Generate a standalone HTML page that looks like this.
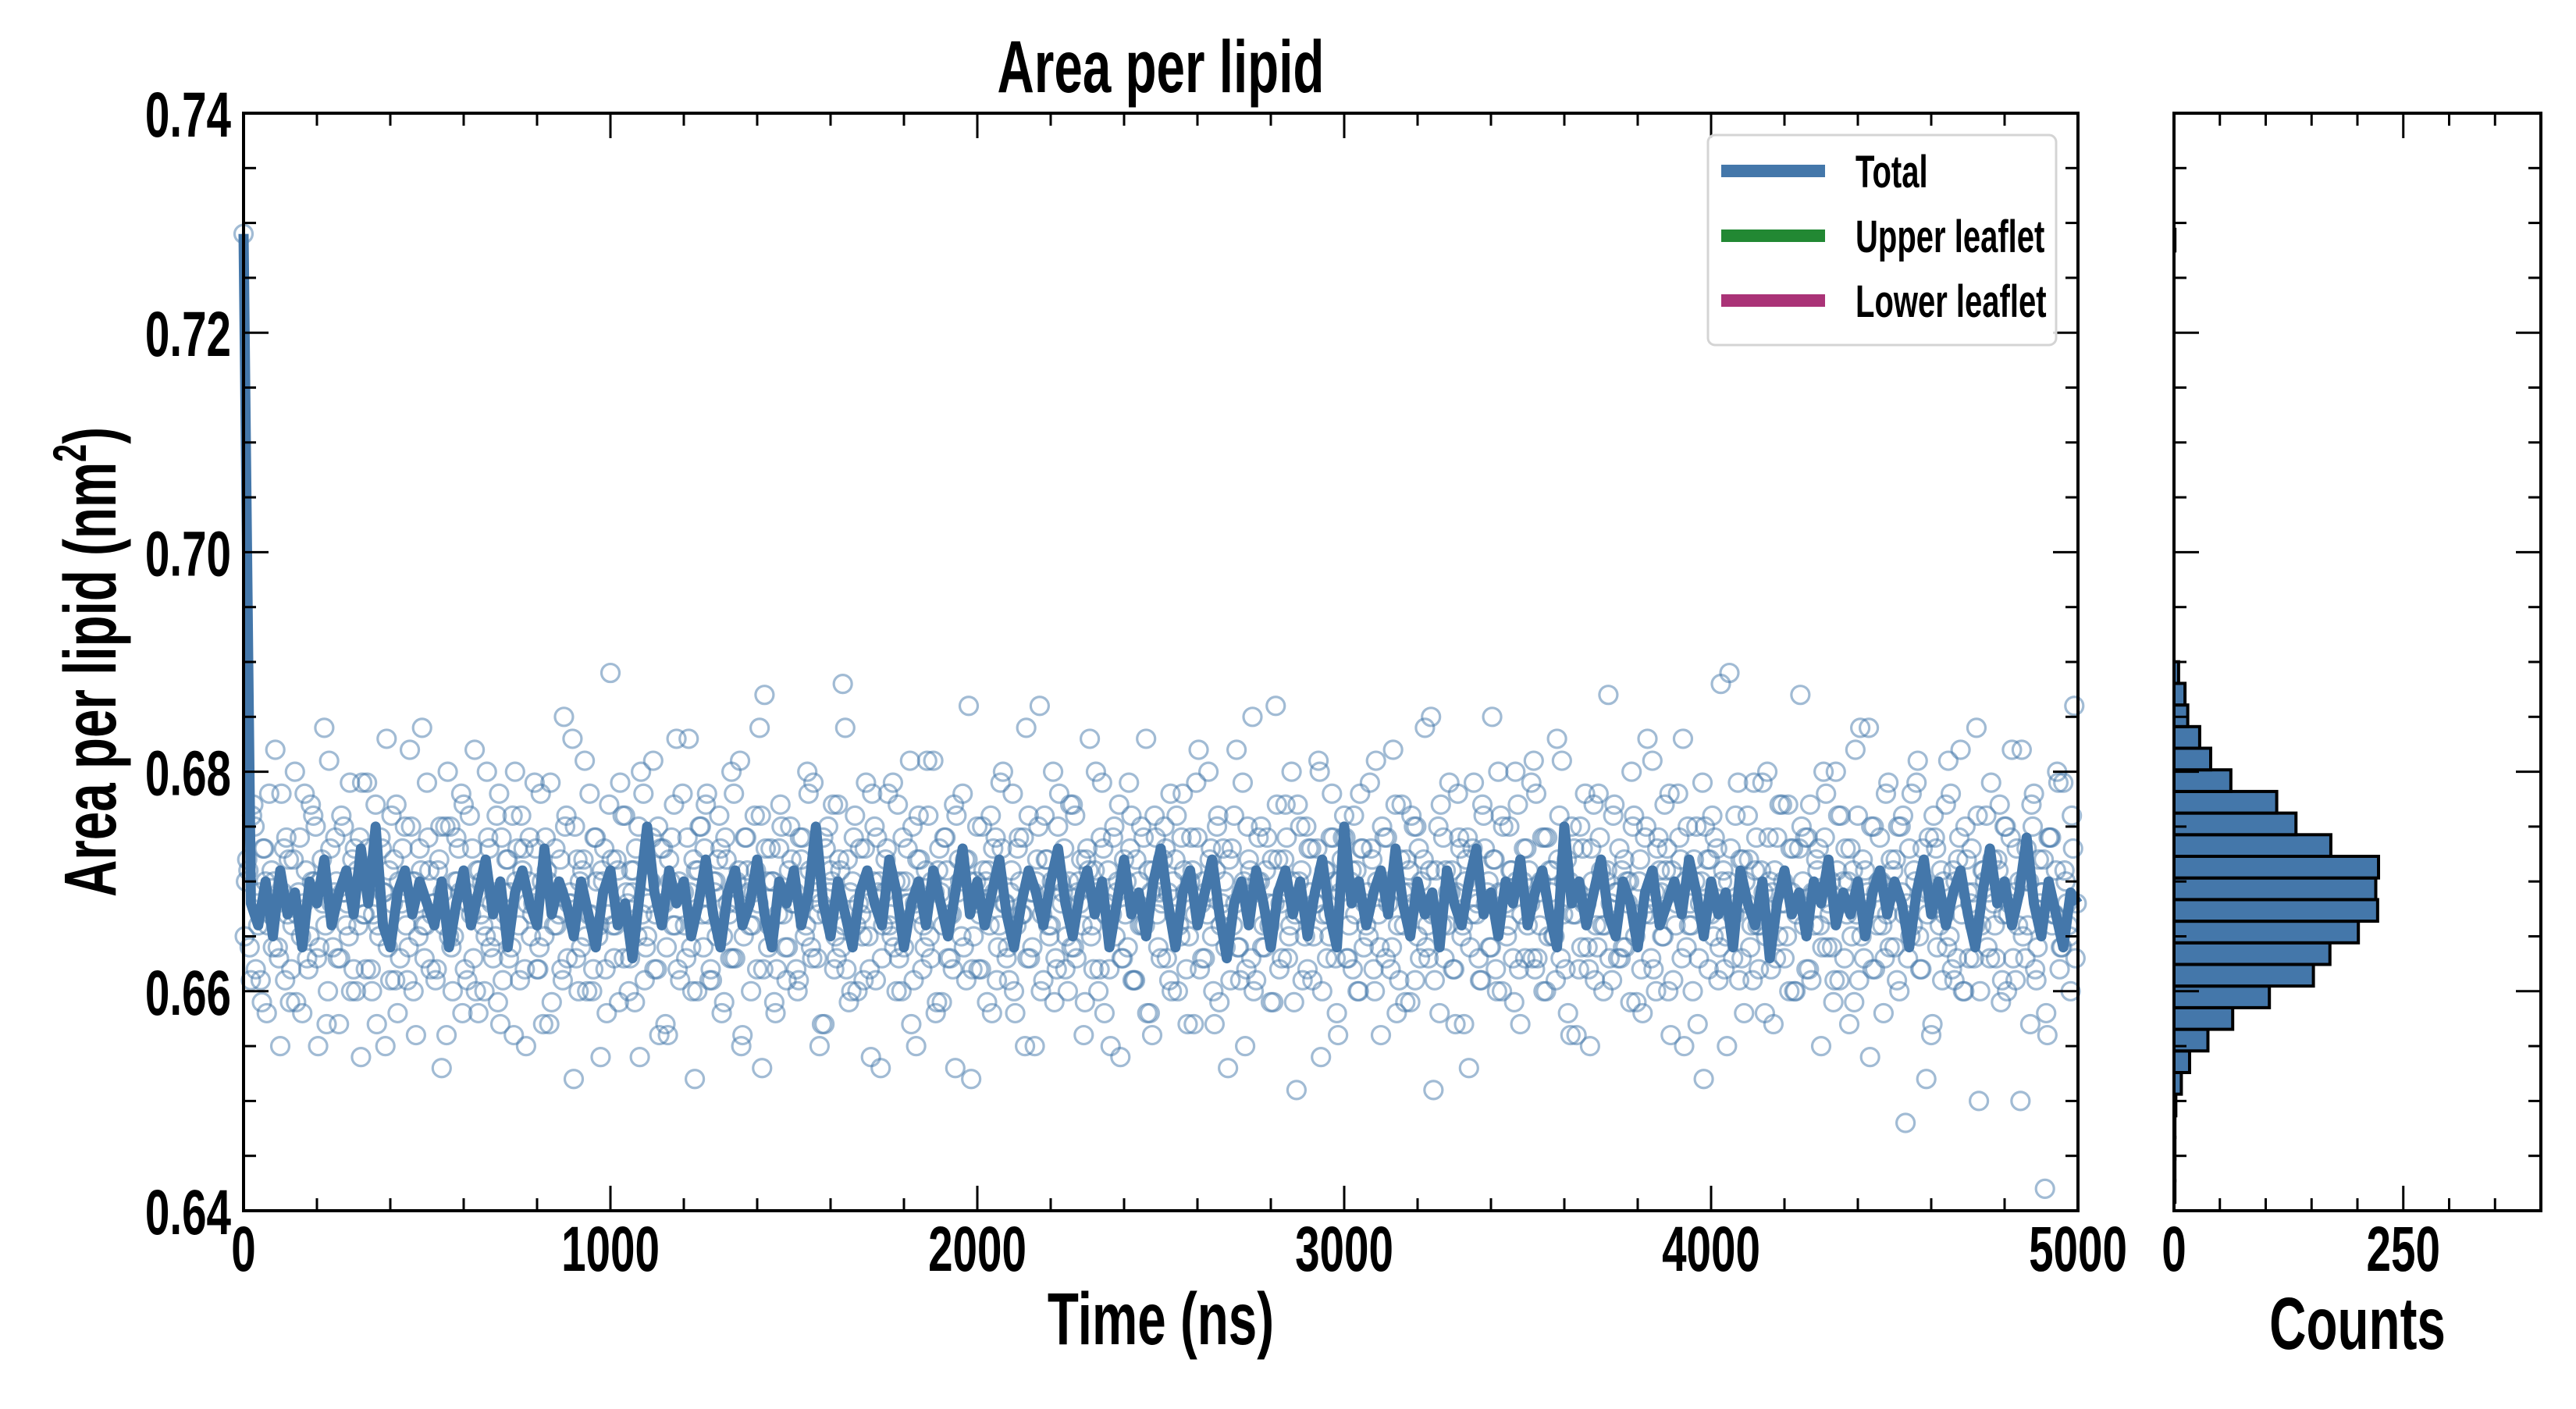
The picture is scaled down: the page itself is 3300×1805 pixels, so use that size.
<!DOCTYPE html>
<html><head><meta charset="utf-8"><style>
html,body{margin:0;padding:0;background:#fff}
svg text{font-family:"Liberation Sans Narrow","Liberation Sans",sans-serif;font-weight:bold;fill:#000}
</style></head><body>
<svg id="fig" xmlns="http://www.w3.org/2000/svg" width="3300" height="1800" viewBox="0 0 3300 1800">
<rect x="0" y="0" width="3300" height="1800" fill="#fff"/>
<g id="scatter"></g>
<g id="line"></g>
<g id="hist"></g>
<g id="axes"></g>
<g id="labels"></g>
<g id="legend"></g>
</svg>
<script>
// ---- data ----
const lineT0 = 0, lineDt = 20;
const totalLine = [
0.729,0.668,0.666,0.670,0.665,0.671,0.667,0.669,0.664,0.670,
0.668,0.672,0.666,0.669,0.671,0.667,0.673,0.668,0.675,0.666,
0.664,0.669,0.671,0.667,0.670,0.668,0.666,0.670,0.664,0.668,
0.671,0.666,0.669,0.672,0.667,0.670,0.664,0.669,0.671,0.668,
0.666,0.673,0.667,0.670,0.668,0.665,0.670,0.667,0.664,0.669,
0.671,0.666,0.668,0.663,0.669,0.675,0.669,0.666,0.671,0.668,
0.670,0.665,0.668,0.672,0.667,0.664,0.669,0.671,0.666,0.668,
0.672,0.667,0.664,0.670,0.668,0.671,0.666,0.669,0.675,0.668,
0.665,0.670,0.667,0.664,0.669,0.671,0.668,0.666,0.672,0.669,
0.664,0.668,0.670,0.666,0.671,0.668,0.665,0.669,0.673,0.667,
0.670,0.666,0.669,0.672,0.667,0.664,0.668,0.671,0.669,0.666,
0.670,0.673,0.668,0.665,0.669,0.671,0.667,0.670,0.664,0.668,
0.672,0.667,0.669,0.665,0.670,0.673,0.668,0.664,0.669,0.671,
0.666,0.669,0.672,0.667,0.663,0.668,0.670,0.666,0.671,0.668,
0.664,0.669,0.671,0.667,0.670,0.665,0.669,0.672,0.667,0.664,
0.675,0.668,0.670,0.666,0.669,0.671,0.667,0.673,0.668,0.665,
0.670,0.667,0.669,0.664,0.671,0.668,0.666,0.670,0.673,0.667,
0.669,0.665,0.670,0.668,0.672,0.666,0.669,0.671,0.667,0.664,
0.675,0.668,0.670,0.666,0.669,0.672,0.667,0.665,0.670,0.668,
0.664,0.669,0.671,0.666,0.668,0.670,0.667,0.672,0.669,0.665,
0.670,0.667,0.669,0.664,0.671,0.668,0.666,0.670,0.663,0.668,
0.671,0.667,0.669,0.665,0.670,0.668,0.672,0.666,0.669,0.667,
0.670,0.665,0.669,0.671,0.667,0.670,0.668,0.664,0.669,0.672,
0.667,0.670,0.666,0.669,0.671,0.667,0.664,0.669,0.673,0.668,
0.670,0.666,0.669,0.674,0.668,0.665,0.670,0.667,0.664,0.669,
0.668];
const scatterT0 = 0, scatterDt = 10;
const scatterVals = [
0.729,0.672,0.661,0.675,0.666,0.659,0.670,0.678,0.664,0.668,0.655,0.673,0.667,0.662,0.680,0.669,0.658,0.671,0.665,0.676,0.663,0.670,0.684,0.660,0.668,
0.674,0.657,0.669,0.666,0.679,0.662,0.671,0.654,0.667,0.673,0.660,0.677,0.665,0.669,0.683,0.661,0.672,0.658,0.668,0.675,0.664,0.670,0.656,0.673,0.666,
0.679,0.662,0.668,0.671,0.653,0.675,0.665,0.660,0.674,0.669,0.677,0.661,0.667,0.682,0.658,0.670,0.665,0.673,0.663,0.676,0.657,0.669,0.672,0.664,0.680,
0.666,0.671,0.655,0.674,0.668,0.662,0.678,0.665,0.670,0.659,0.673,0.667,0.661,0.676,0.669,0.652,0.672,0.664,0.681,0.667,0.660,0.674,0.666,0.670,0.658,
0.689,0.663,0.671,0.667,0.676,0.660,0.669,0.673,0.654,0.678,0.665,0.670,0.662,0.675,0.668,0.657,0.672,0.666,0.683,0.661,0.669,0.674,0.664,0.652,0.671,
0.667,0.677,0.661,0.670,0.665,0.673,0.659,0.668,0.680,0.663,0.671,0.656,0.674,0.666,0.669,0.662,0.676,0.687,0.664,0.670,0.658,0.673,0.667,0.661,0.675,
0.668,0.660,0.672,0.665,0.678,0.663,0.669,0.655,0.674,0.667,0.671,0.662,0.677,0.664,0.684,0.659,0.670,0.666,0.673,0.661,0.668,0.654,0.675,0.669,0.663,
0.672,0.666,0.679,0.660,0.670,0.664,0.673,0.657,0.668,0.676,0.662,0.671,0.665,0.681,0.659,0.669,0.674,0.663,0.667,0.653,0.672,0.678,0.661,0.670,0.665,
0.675,0.662,0.668,0.671,0.658,0.674,0.666,0.680,0.663,0.669,0.660,0.673,0.667,0.655,0.676,0.664,0.670,0.686,0.661,0.672,0.666,0.659,0.675,0.668,0.662,
0.670,0.677,0.663,0.668,0.656,0.673,0.665,0.671,0.660,0.679,0.667,0.662,0.674,0.669,0.654,0.672,0.664,0.676,0.661,0.670,0.666,0.683,0.658,0.671,0.667,
0.663,0.675,0.669,0.660,0.672,0.666,0.678,0.662,0.670,0.657,0.674,0.668,0.663,0.680,0.665,0.671,0.659,0.673,0.667,0.661,0.676,0.664,0.669,0.655,0.672,
0.685,0.661,0.670,0.666,0.674,0.659,0.668,0.672,0.663,0.677,0.665,0.670,0.651,0.675,0.667,0.662,0.673,0.668,0.681,0.660,0.671,0.665,0.674,0.658,0.669,
0.676,0.663,0.671,0.667,0.660,0.673,0.666,0.679,0.662,0.670,0.656,0.674,0.668,0.664,0.677,0.661,0.669,0.672,0.659,0.675,0.665,0.670,0.684,0.663,0.667,
0.671,0.658,0.674,0.666,0.669,0.662,0.678,0.665,0.670,0.653,0.673,0.667,0.661,0.676,0.669,0.664,0.672,0.680,0.660,0.668,0.675,0.663,0.670,0.657,0.673,
0.666,0.679,0.662,0.669,0.674,0.660,0.671,0.665,0.683,0.663,0.670,0.658,0.675,0.667,0.662,0.673,0.668,0.655,0.677,0.664,0.671,0.666,0.687,0.661,0.669,
0.673,0.664,0.670,0.659,0.676,0.667,0.662,0.674,0.668,0.681,0.660,0.671,0.665,0.673,0.656,0.669,0.678,0.663,0.670,0.666,0.660,0.675,0.668,0.652,0.672,
0.667,0.674,0.661,0.670,0.665,0.689,0.663,0.668,0.672,0.658,0.676,0.666,0.671,0.662,0.679,0.665,0.670,0.657,0.674,0.668,0.663,0.677,0.669,0.660,0.673,
0.670,0.662,0.677,0.666,0.671,0.655,0.674,0.668,0.664,0.680,0.661,0.670,0.667,0.673,0.659,0.676,0.665,0.671,0.684,0.662,0.669,0.674,0.658,0.667,0.672,
0.664,0.675,0.669,0.648,0.673,0.666,0.679,0.662,0.670,0.667,0.656,0.674,0.668,0.661,0.677,0.665,0.671,0.663,0.682,0.660,0.669,0.673,0.666,0.650,0.671,
0.676,0.663,0.668,0.672,0.659,0.675,0.667,0.682,0.661,0.670,0.665,0.673,0.657,0.678,0.664,0.669,0.642,0.674,0.666,0.671,0.662,0.679,0.668,0.660,0.686];
const scatterT0b = 3.3;
const scatterValsB = [
0.665,0.671,0.676,0.662,0.669,0.673,0.658,0.667,0.670,0.664,0.678,0.661,0.672,0.666,0.659,0.674,0.668,0.663,0.677,0.670,0.655,0.672,0.666,0.681,0.664,
0.670,0.663,0.675,0.668,0.660,0.673,0.666,0.679,0.662,0.671,0.667,0.657,0.674,0.669,0.664,0.676,0.661,0.670,0.673,0.666,0.682,0.660,0.668,0.671,0.663,
0.674,0.667,0.661,0.672,0.669,0.656,0.675,0.665,0.670,0.678,0.662,0.668,0.673,0.660,0.671,0.666,0.680,0.664,0.669,0.659,0.674,0.667,0.663,0.676,0.670,
0.661,0.673,0.668,0.665,0.679,0.662,0.670,0.674,0.657,0.669,0.666,0.672,0.685,0.663,0.668,0.675,0.660,0.671,0.665,0.678,0.662,0.670,0.654,0.673,0.667,
0.672,0.666,0.659,0.676,0.669,0.663,0.671,0.665,0.680,0.661,0.668,0.674,0.667,0.656,0.673,0.664,0.670,0.677,0.662,0.669,0.666,0.683,0.660,0.671,0.675,
0.664,0.678,0.662,0.669,0.672,0.658,0.674,0.667,0.663,0.670,0.681,0.665,0.671,0.660,0.676,0.668,0.653,0.673,0.666,0.670,0.662,0.677,0.669,0.664,0.672,
0.669,0.661,0.674,0.666,0.671,0.679,0.663,0.668,0.657,0.675,0.670,0.665,0.672,0.688,0.662,0.669,0.674,0.660,0.667,0.673,0.665,0.678,0.661,0.670,0.666,
0.673,0.667,0.664,0.677,0.660,0.670,0.668,0.675,0.655,0.672,0.666,0.681,0.663,0.669,0.671,0.659,0.674,0.667,0.662,0.676,0.670,0.664,0.672,0.652,0.668,
0.662,0.675,0.670,0.666,0.673,0.661,0.679,0.668,0.664,0.671,0.658,0.674,0.667,0.684,0.663,0.669,0.672,0.660,0.676,0.666,0.670,0.663,0.678,0.669,0.665,
0.677,0.664,0.669,0.672,0.659,0.671,0.666,0.680,0.662,0.673,0.668,0.655,0.675,0.670,0.663,0.667,0.679,0.661,0.672,0.666,0.674,0.658,0.669,0.676,0.664,
0.668,0.673,0.661,0.670,0.676,0.665,0.671,0.657,0.674,0.667,0.682,0.663,0.669,0.672,0.660,0.675,0.666,0.670,0.653,0.673,0.668,0.664,0.679,0.662,0.671,
0.660,0.670,0.675,0.664,0.668,0.672,0.686,0.662,0.669,0.674,0.666,0.659,0.677,0.671,0.665,0.673,0.661,0.668,0.680,0.667,0.663,0.674,0.670,0.656,0.672,
0.674,0.666,0.662,0.671,0.678,0.664,0.669,0.673,0.660,0.667,0.675,0.663,0.670,0.682,0.658,0.672,0.666,0.669,0.676,0.661,0.673,0.668,0.664,0.671,0.651,
0.667,0.677,0.663,0.669,0.671,0.657,0.674,0.666,0.672,0.664,0.679,0.668,0.661,0.673,0.670,0.685,0.662,0.669,0.675,0.665,0.671,0.659,0.677,0.667,0.663,
0.671,0.663,0.678,0.666,0.660,0.674,0.669,0.665,0.672,0.681,0.662,0.670,0.667,0.656,0.675,0.668,0.664,0.673,0.661,0.678,0.666,0.670,0.663,0.676,0.669,
0.663,0.672,0.668,0.680,0.665,0.670,0.658,0.675,0.667,0.662,0.673,0.669,0.677,0.660,0.671,0.666,0.674,0.683,0.664,0.668,0.672,0.657,0.670,0.675,0.662,
0.676,0.668,0.664,0.671,0.655,0.673,0.667,0.679,0.663,0.670,0.672,0.661,0.674,0.666,0.669,0.680,0.662,0.671,0.665,0.677,0.668,0.660,0.673,0.667,0.687,
0.666,0.674,0.661,0.669,0.673,0.664,0.678,0.667,0.659,0.671,0.676,0.663,0.670,0.665,0.682,0.661,0.672,0.668,0.654,0.675,0.666,0.670,0.663,0.679,0.669,
0.672,0.660,0.676,0.668,0.665,0.671,0.681,0.662,0.669,0.674,0.657,0.673,0.666,0.670,0.664,0.678,0.661,0.672,0.667,0.675,0.663,0.669,0.684,0.660,0.671,
0.664,0.679,0.666,0.671,0.661,0.675,0.668,0.663,0.673,0.650,0.670,0.666,0.677,0.662,0.672,0.669,0.658,0.674,0.667,0.680,0.664,0.671,0.666,0.676,0.663];
const scatterT0c = 6.6;
const scatterValsC = [
0.670,0.664,0.677,0.668,0.661,0.673,0.666,0.671,0.682,0.663,0.669,0.674,0.659,0.672,0.667,0.665,0.678,0.662,0.670,0.675,0.664,0.668,0.657,0.673,0.669,
0.663,0.676,0.669,0.665,0.672,0.660,0.674,0.667,0.679,0.662,0.670,0.666,0.673,0.655,0.671,0.668,0.677,0.663,0.669,0.661,0.675,0.670,0.665,0.684,0.666,
0.671,0.668,0.662,0.675,0.666,0.680,0.664,0.670,0.673,0.658,0.669,0.676,0.663,0.671,0.667,0.660,0.674,0.668,0.665,0.678,0.661,0.672,0.669,0.656,0.673,
0.676,0.662,0.670,0.667,0.673,0.664,0.657,0.671,0.679,0.666,0.669,0.662,0.675,0.668,0.683,0.663,0.670,0.672,0.660,0.667,0.674,0.665,0.671,0.662,0.677,
0.666,0.672,0.679,0.663,0.668,0.671,0.659,0.675,0.667,0.664,0.670,0.681,0.662,0.673,0.668,0.656,0.674,0.666,0.670,0.678,0.663,0.669,0.672,0.660,0.675,
0.673,0.667,0.661,0.670,0.676,0.665,0.672,0.663,0.678,0.668,0.655,0.674,0.669,0.666,0.671,0.684,0.662,0.670,0.673,0.659,0.667,0.675,0.664,0.671,0.668,
0.662,0.674,0.668,0.680,0.664,0.670,0.667,0.657,0.673,0.669,0.677,0.663,0.671,0.666,0.672,0.660,0.676,0.668,0.665,0.679,0.662,0.670,0.674,0.653,0.669,
0.678,0.665,0.670,0.663,0.674,0.668,0.681,0.661,0.672,0.667,0.664,0.676,0.670,0.658,0.673,0.666,0.671,0.663,0.677,0.669,0.665,0.672,0.686,0.662,0.670,
0.667,0.671,0.659,0.676,0.669,0.664,0.673,0.668,0.661,0.678,0.666,0.670,0.674,0.663,0.669,0.655,0.675,0.667,0.672,0.665,0.680,0.662,0.670,0.673,0.660,
0.664,0.676,0.670,0.666,0.672,0.683,0.662,0.669,0.674,0.658,0.671,0.667,0.665,0.677,0.663,0.670,0.673,0.661,0.668,0.675,0.666,0.671,0.656,0.674,0.669,
0.672,0.663,0.678,0.667,0.660,0.674,0.669,0.665,0.671,0.679,0.662,0.670,0.667,0.673,0.657,0.676,0.668,0.664,0.672,0.666,0.682,0.661,0.670,0.675,0.663,
0.669,0.674,0.664,0.671,0.666,0.659,0.677,0.668,0.672,0.663,0.680,0.667,0.670,0.661,0.675,0.669,0.665,0.673,0.654,0.671,0.667,0.678,0.663,0.670,0.674,
0.663,0.670,0.676,0.660,0.673,0.668,0.665,0.672,0.681,0.664,0.669,0.674,0.662,0.670,0.666,0.677,0.659,0.671,0.668,0.675,0.663,0.672,0.666,0.685,0.661,
0.675,0.666,0.671,0.679,0.662,0.669,0.673,0.657,0.674,0.667,0.670,0.663,0.677,0.668,0.664,0.672,0.660,0.676,0.669,0.666,0.671,0.680,0.662,0.670,0.673,
0.668,0.681,0.663,0.670,0.674,0.665,0.671,0.661,0.676,0.667,0.672,0.656,0.673,0.669,0.664,0.678,0.662,0.670,0.666,0.674,0.660,0.671,0.668,0.677,0.663,
0.671,0.664,0.670,0.675,0.659,0.672,0.667,0.683,0.663,0.669,0.674,0.665,0.671,0.678,0.661,0.668,0.672,0.655,0.675,0.666,0.670,0.663,0.679,0.667,0.672,
0.665,0.673,0.688,0.662,0.670,0.667,0.676,0.661,0.672,0.668,0.664,0.679,0.666,0.671,0.658,0.674,0.669,0.663,0.677,0.670,0.665,0.673,0.660,0.668,0.675,
0.674,0.662,0.669,0.672,0.666,0.680,0.664,0.670,0.661,0.676,0.668,0.673,0.657,0.671,0.667,0.684,0.663,0.669,0.675,0.662,0.670,0.666,0.678,0.664,0.671,
0.661,0.675,0.667,0.663,0.678,0.670,0.665,0.673,0.652,0.669,0.676,0.664,0.671,0.667,0.681,0.662,0.670,0.674,0.660,0.672,0.668,0.663,0.676,0.666,0.670,
0.669,0.672,0.663,0.677,0.667,0.660,0.674,0.669,0.666,0.682,0.663,0.670,0.675,0.661,0.668,0.672,0.656,0.674,0.667,0.679,0.664,0.670,0.665,0.673,0.668];
const histBinStart = 0.64077, histBinWidth = 0.00197;
const histCounts = [1,1,1,1,2,8,17,37,64,104,152,170,201,222,220,223,171,133,112,62,40,28,15,12,5,
0,0,0,0,0,0,0,0,0,0,0,0,0,0,0,0,0,0,0,1];
const xTicks = [0,1000,2000,3000,4000,5000];
const xTickLabels = ["0","1000","2000","3000","4000","5000"];
const yTicks = [0.64,0.66,0.68,0.70,0.72,0.74];
const yTickLabels = ["0.64","0.66","0.68","0.70","0.72","0.74"];
const cTicks = [0,250];
const cTickLabels = ["0","250"];
const legendLabels = ["Total","Upper leaflet","Lower leaflet"];
const legendColors = ["#4477aa","#228833","#aa3377"];

// ---- layout ----
const L=312,R=2662,T=145,B=1551,HL=2785,HR=3255;
const xMin=0,xMax=5000,yMin=0.64,yMax=0.74,cMax=400;
const X=t=>L+(t-xMin)/(xMax-xMin)*(R-L);
const Y=v=>B-(v-yMin)/(yMax-yMin)*(B-T);
const C=c=>HL+c/cMax*(HR-HL);
const NS="http://www.w3.org/2000/svg";
function mk(tag,attrs,parent){const e=document.createElementNS(NS,tag);for(const k in attrs)e.setAttribute(k,attrs[k]);parent.appendChild(e);return e;}
const SX=0.69;
function txt(parent,x,y,s,size,anchor,name){
  const g=mk('g',{transform:`translate(${x},${y}) scale(${SX},1)`},parent);
  const t=mk('text',{x:0,y:0,'font-size':size,'text-anchor':anchor},g);
  t.textContent=s;
  
  
  return t;
}

// scatter
const sc=document.getElementById('scatter');
function drawScatter(vals,t0){
  vals.forEach((v,i)=>{
    const c=mk('circle',{cx:X(t0+i*scatterDt),cy:Y(v),r:11.5,fill:'none',stroke:'#4477aa','stroke-opacity':0.5,'stroke-width':3.2},sc);
    
    
  });
}
drawScatter(scatterVals,scatterT0);
drawScatter(scatterValsB,scatterT0b);
drawScatter(scatterValsC,scatterT0c);
// line
const ln=document.getElementById('line');
const pts=totalLine.map((v,i)=>X(lineT0+i*lineDt).toFixed(1)+','+Y(v).toFixed(1)).join(' ');
const pl=mk('polyline',{points:pts,fill:'none',stroke:'#4477aa','stroke-width':13,'stroke-linejoin':'round'},ln);



// histogram
const hg=document.getElementById('hist');
histCounts.forEach((c,i)=>{
  if(c<=0)return;
  const lo=histBinStart+i*histBinWidth, hi=lo+histBinWidth;
  const r=mk('rect',{x:C(0),y:Y(hi),width:C(c)-C(0),height:Y(lo)-Y(hi),fill:'#4477aa',stroke:'#000','stroke-width':4},hg);
  
  
});

// axes
const ax=document.getElementById('axes');
function frame(l,r,name){
  const f=mk('rect',{x:l,y:T,width:r-l,height:B-T,fill:'none',stroke:'#000','stroke-width':4},ax);
  
  
}
frame(L,R,'main-axes-frame');frame(HL,HR,'hist-axes-frame');
function tick(x1,y1,x2,y2){mk('line',{x1,y1,x2,y2,stroke:'#000','stroke-width':3},ax);}
for(let t=0;t<=5000;t+=200){const maj=t%1000===0,len=maj?32:16,x=X(t);tick(x,B,x,B-len);tick(x,T,x,T+len);}
for(let k=0;k<=20;k++){const v=yMin+k*0.005,maj=k%4===0,len=maj?32:16,y=Y(v);
  tick(L,y,L+len,y);tick(R,y,R-len,y);tick(HL,y,HL+len,y);tick(HR,y,HR-len,y);}
for(let c=0;c<=400;c+=50){const maj=c%250===0,len=maj?32:16,x=C(c);tick(x,B,x,B-len);tick(x,T,x,T+len);}

// labels
const lb=document.getElementById('labels');
xTicks.forEach((t,i)=>txt(lb,X(t),1628,xTickLabels[i],82,'middle','x-tick-label'));
yTicks.forEach((v,i)=>txt(lb,296,Y(v)+30,yTickLabels[i],82,'end','y-tick-label'));
cTicks.forEach((c,i)=>txt(lb,C(c),1628,cTickLabels[i],82,'middle','counts-tick-label'));
txt(lb,(L+R)/2,118,'Area per lipid',95,'middle','chart-title');
txt(lb,(L+R)/2,1722,'Time (ns)',95,'middle','x-axis-title');
txt(lb,(HL+HR)/2,1728,'Counts',95,'middle','counts-axis-title');
{
  const g=mk('g',{transform:`translate(148,${(T+B)/2}) rotate(-90) scale(${SX},1)`},lb);
  const t=mk('text',{x:0,y:0,'font-size':95,'text-anchor':'middle'},g);
  
  
  t.appendChild(document.createTextNode('Area per lipid (nm'));
  const s=mk('tspan',{'font-size':60,dy:-38},t);s.textContent='2';
  const p=mk('tspan',{dy:38},t);p.textContent=')';
}

// legend
const lg=document.getElementById('legend');
const box=mk('rect',{x:2188,y:173,width:446,height:269,rx:9,fill:'#fff','fill-opacity':0.85,stroke:'#d4d4d4','stroke-width':3},lg);


legendLabels.forEach((s,i)=>{
  const y=219+i*83;
  const l=mk('line',{x1:2205,y1:y,x2:2338,y2:y,stroke:legendColors[i],'stroke-width':16},lg);
  
  
  txt(lg,2377,y+21,s,58,'start','legend-entry');
});
</script>
</body></html>
